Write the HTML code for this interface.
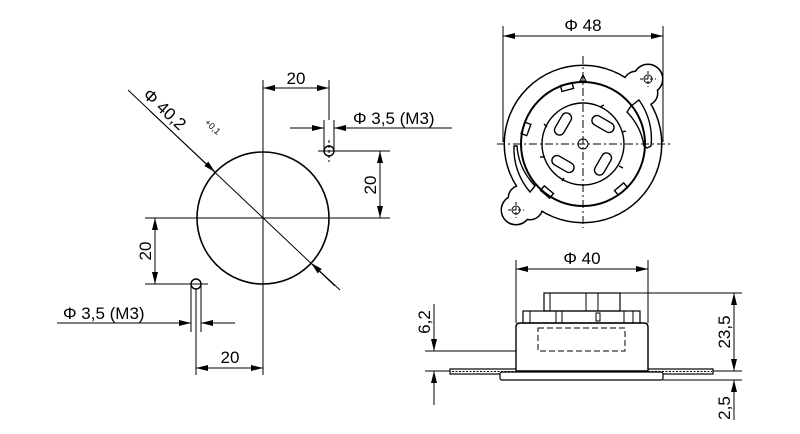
<!DOCTYPE html>
<html><head><meta charset="utf-8"><style>
html,body{margin:0;padding:0;background:#fff}
svg{display:block}
text{font-family:"Liberation Sans",sans-serif;fill:#000}
</style></head><body>
<svg width="800" height="434" viewBox="0 0 800 434" xmlns="http://www.w3.org/2000/svg">
<defs>
<marker id="a" viewBox="0 0 12 6" refX="12" refY="3" markerWidth="12" markerHeight="6" markerUnits="userSpaceOnUse" orient="auto-start-reverse"><path d="M0,0L12,3L0,6z" fill="#000"/></marker>
</defs>
<g stroke="#000" stroke-width="1" fill="none">
<!-- LEFT VIEW -->
<circle cx="263" cy="218" r="66" stroke-width="1.6"/>
<line x1="263" y1="80" x2="263" y2="375"/>
<line x1="145" y1="218" x2="390" y2="218"/>
<line x1="128" y1="90" x2="335" y2="286"/>
<line x1="150" y1="111" x2="215" y2="172" marker-end="url(#a)"/>
<line x1="340" y1="290" x2="311" y2="263" marker-end="url(#a)"/>
<circle cx="329" cy="151" r="5" stroke-width="1.4"/>
<line x1="318" y1="151" x2="390" y2="151"/>
<line x1="329" y1="140" x2="329" y2="162" stroke-dasharray="3,2"/>
<line x1="329" y1="80" x2="329" y2="120"/>
<line x1="324" y1="120" x2="324" y2="151"/>
<line x1="334" y1="120" x2="334" y2="151"/>
<line x1="263" y1="88" x2="329" y2="88" marker-start="url(#a)" marker-end="url(#a)"/>
<line x1="290" y1="128" x2="324" y2="128" marker-end="url(#a)"/>
<line x1="334" y1="128" x2="452" y2="128"/>
<line x1="346" y1="128" x2="334" y2="128" marker-end="url(#a)"/>
<line x1="380" y1="151" x2="380" y2="218" marker-start="url(#a)" marker-end="url(#a)"/>
<circle cx="196" cy="284" r="5" stroke-width="1.4"/>
<line x1="145" y1="284" x2="208" y2="284"/>
<line x1="191" y1="284" x2="191" y2="332"/>
<line x1="201" y1="284" x2="201" y2="332"/>
<line x1="196" y1="289" x2="196" y2="375"/>
<line x1="155" y1="218" x2="155" y2="284" marker-start="url(#a)" marker-end="url(#a)"/>
<line x1="57" y1="323" x2="191" y2="323" marker-end="url(#a)"/>
<line x1="201" y1="323" x2="235" y2="323"/>
<line x1="213" y1="323" x2="201" y2="323" marker-end="url(#a)"/>
<line x1="196" y1="368" x2="263" y2="368" marker-start="url(#a)" marker-end="url(#a)"/>

<!-- TOP RIGHT VIEW -->
<g stroke-width="3">
<circle cx="583" cy="144" r="78"/>
<circle cx="648" cy="79" r="14"/>
<circle cx="516" cy="210" r="14"/>
<circle cx="636" cy="84" r="12"/>
<circle cx="645" cy="93" r="12"/>
<circle cx="521" cy="198" r="12"/>
<circle cx="530" cy="207" r="12"/>
</g>
<g fill="#fff" stroke="none">
<circle cx="583" cy="144" r="78"/>
<circle cx="648" cy="79" r="14"/>
<circle cx="516" cy="210" r="14"/>
<circle cx="636" cy="84" r="12"/>
<circle cx="645" cy="93" r="12"/>
<circle cx="521" cy="198" r="12"/>
<circle cx="530" cy="207" r="12"/>
</g>
<circle cx="648" cy="79" r="4"/>
<circle cx="516" cy="210" r="4"/>
<line x1="640" y1="79" x2="656" y2="79" stroke-dasharray="3,2"/>
<line x1="648" y1="71" x2="648" y2="87" stroke-dasharray="3,2"/>
<line x1="508" y1="210" x2="524" y2="210" stroke-dasharray="3,2"/>
<line x1="516" y1="202" x2="516" y2="218" stroke-dasharray="3,2"/>
<circle cx="583" cy="144" r="62" stroke-width="2"/>
<circle cx="583" cy="144" r="41" stroke-width="1.4"/>
<circle cx="583" cy="144" r="5"/>
<g stroke-width="1.4">
<rect x="-12" y="-5" width="24" height="10" rx="5" transform="translate(603,124) rotate(30)"/>
<rect x="-12" y="-5" width="24" height="10" rx="5" transform="translate(603,164) rotate(-60)"/>
<rect x="-12" y="-5" width="24" height="10" rx="5" transform="translate(563,164) rotate(30)"/>
<rect x="-12" y="-5" width="24" height="10" rx="5" transform="translate(563,124) rotate(-60)"/>
<path d="M631,106 L639,100 A66,66 0 0 1 651,146 L647,148 L644,146 A62,62 0 0 0 627,112z"/>
<path d="M517,146 A62,62 0 0 0 530,180 L535,186 L530,192 A66,66 0 0 1 514,146z"/>
<rect x="-6" y="-3" width="12" height="6" transform="translate(567,87) rotate(-15)"/>
<rect x="-6" y="-3" width="12" height="6" transform="translate(526,129) rotate(-70)"/>
<rect x="-6" y="-3" width="12" height="6" transform="translate(547,192) rotate(40)"/>
<rect x="-6" y="-3" width="12" height="6" transform="translate(621,189) rotate(-40)"/>
</g>
<path d="M580,81 L583,75 L586,81z" stroke-width="1.2"/>
<g stroke-width="1.4">
<line x1="600" y1="107" x2="604" y2="105"/><line x1="622" y1="132" x2="626" y2="131"/>
<line x1="619" y1="166" x2="623" y2="168"/><line x1="540" y1="157" x2="544" y2="157"/>
<line x1="544" y1="124" x2="547" y2="127"/><line x1="562" y1="181" x2="564" y2="178"/>
</g>
<line x1="583" y1="56" x2="583" y2="228" stroke-dasharray="8,3,2,3"/>
<line x1="497" y1="144" x2="670" y2="144" stroke-dasharray="8,3,2,3"/>
<line x1="503" y1="26" x2="503" y2="142"/>
<line x1="663" y1="26" x2="663" y2="142"/>
<line x1="503" y1="36" x2="663" y2="36" marker-start="url(#a)" marker-end="url(#a)"/>

<!-- SIDE VIEW -->
<line x1="516" y1="260" x2="516" y2="323"/>
<line x1="648" y1="260" x2="648" y2="323"/>
<line x1="516" y1="269" x2="648" y2="269" marker-start="url(#a)" marker-end="url(#a)"/>
<rect x="450" y="369" width="263" height="5" stroke-width="1.2"/>
<line x1="452" y1="371.5" x2="712" y2="371.5" stroke-dasharray="2,1.5"/>
<rect x="500" y="372" width="163" height="8" rx="2" fill="#fff" stroke-width="1.2"/>
<path d="M516,371 L516,327 Q516,323 520,323 L644,323 Q648,323 648,327 L648,371z" fill="#fff" stroke-width="1.4"/>
<rect x="523" y="311" width="117" height="12" stroke-width="1.2"/>
<line x1="530" y1="311" x2="530" y2="323"/><line x1="556" y1="311" x2="556" y2="323"/>
<line x1="562" y1="311" x2="562" y2="323"/><line x1="624" y1="311" x2="624" y2="323"/>
<line x1="633" y1="311" x2="633" y2="323"/><rect x="596" y="313" width="4" height="8"/>
<rect x="544" y="293" width="76" height="18" stroke-width="1.2"/>
<line x1="550" y1="293" x2="550" y2="311"/><line x1="586" y1="293" x2="586" y2="311"/>
<line x1="598" y1="293" x2="598" y2="311"/>
<rect x="538" y="328" width="87" height="23" stroke-dasharray="6,3"/>
<line x1="620" y1="293" x2="742" y2="293"/>
<line x1="713" y1="371" x2="742" y2="371"/>
<line x1="663" y1="380" x2="742" y2="380"/>
<line x1="734" y1="293" x2="734" y2="371" marker-start="url(#a)" marker-end="url(#a)"/>
<line x1="734" y1="420" x2="734" y2="380" marker-end="url(#a)"/>
<line x1="425" y1="351" x2="516" y2="351"/>
<line x1="425" y1="371" x2="450" y2="371"/>
<line x1="434" y1="304" x2="434" y2="351" marker-end="url(#a)"/>
<line x1="434" y1="405" x2="434" y2="371" marker-end="url(#a)"/>
</g>
<g font-size="17">
<text x="296" y="84" text-anchor="middle">20</text>
<text x="353" y="124">Φ 3,5 (M3)</text>
<text transform="translate(376,185) rotate(-90)" text-anchor="middle">20</text>
<text transform="translate(151,251) rotate(-90)" text-anchor="middle">20</text>
<text x="63" y="319">Φ 3,5 (M3)</text>
<text x="230" y="363" text-anchor="middle">20</text>
<text transform="translate(142,96) rotate(43)">Φ 40,2</text>
<text transform="translate(204,123) rotate(43)" font-size="9">+0,1</text>
<text x="583" y="31" text-anchor="middle">Φ 48</text>
<text x="582" y="264" text-anchor="middle">Φ 40</text>
<text transform="translate(730,332) rotate(-90)" text-anchor="middle">23,5</text>
<text transform="translate(730,408) rotate(-90)" text-anchor="middle">2,5</text>
<text transform="translate(430,322) rotate(-90)" text-anchor="middle">6,2</text>
</g>
</svg>
</body></html>
